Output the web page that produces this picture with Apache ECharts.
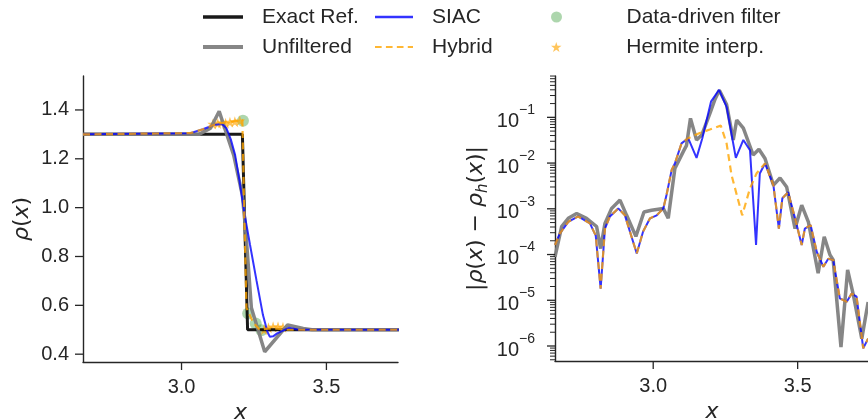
<!DOCTYPE html>
<html>
<head>
<meta charset="utf-8">
<script src="https://cdn.jsdelivr.net/npm/echarts@6/dist/echarts.min.js"></script>
<style>
  html, body { margin: 0; padding: 0; background: #fff; }
  #chart { width: 868px; height: 420px; }
</style>
</head>
<body>
<div id="chart"></div>
<script>
// left panel: rho(x)
const exactX = [2.66, 3.21, 3.228, 3.75];
const exactRho = [1.3, 1.3, 0.5, 0.5];
const unfiltX = [2.66, 3.06, 3.10, 3.130, 3.145, 3.18, 3.21, 3.222, 3.241, 3.287, 3.366, 3.42, 3.45, 3.75];
const unfiltRho = [1.30, 1.30, 1.325, 1.395, 1.34, 1.215, 1.05, 0.90, 0.59, 0.41, 0.52, 0.505, 0.50, 0.50];
const siacX = [2.66, 3.03, 3.074, 3.11, 3.14, 3.155, 3.17, 3.185, 3.20, 3.218, 3.236, 3.259, 3.281, 3.297, 3.305, 3.316, 3.33, 3.37, 3.40, 3.75];
const siacRho = [1.30, 1.305, 1.321, 1.338, 1.342, 1.325, 1.28, 1.215, 1.11, 0.97, 0.85, 0.70, 0.56, 0.49, 0.471, 0.473, 0.485, 0.508, 0.501, 0.50];
const hybridX = [2.66, 3.03, 3.074, 3.11, 3.13, 3.16, 3.19, 3.21, 3.216, 3.224, 3.247, 3.27, 3.30, 3.33, 3.36, 3.75];
const hybridRho = [1.30, 1.305, 1.321, 1.338, 1.345, 1.35, 1.355, 1.36, 1.0, 0.59, 0.53, 0.50, 0.505, 0.505, 0.50, 0.50];
const ddfX = [3.212, 3.230, 3.256, 3.276];
const ddfRho = [1.356, 0.567, 0.526, 0.498];
const hermiteX = [3.108, 3.125, 3.138, 3.152, 3.167, 3.184, 3.201, 3.285, 3.30, 3.316, 3.333, 3.35];
const hermiteRho = [1.342, 1.345, 1.348, 1.346, 1.35, 1.352, 1.356, 0.50, 0.508, 0.512, 0.512, 0.51];

// right panel: |rho - rho_h|
const unfiltErrX = [2.660, 2.683, 2.706, 2.735, 2.769, 2.804, 2.818, 2.833, 2.856, 2.885, 2.908, 2.940, 2.968, 2.994, 3.035, 3.052, 3.075, 3.104, 3.115, 3.129, 3.150, 3.168, 3.196, 3.214, 3.229, 3.254, 3.277, 3.289, 3.312, 3.346, 3.366, 3.387, 3.416, 3.439, 3.462, 3.491, 3.514, 3.537, 3.571, 3.592, 3.612, 3.623, 3.650, 3.673, 3.693, 3.722, 3.744];
const unfiltErr = [8.9e-5, 4.1e-4, 6.2e-4, 7.9e-4, 6.2e-4, 4.1e-4, 1.35e-4, 4.8e-4, 1.02e-3, 1.55e-3, 7.2e-4, 2.5e-4, 8.5e-4, 9.3e-4, 1.02e-3, 6.2e-4, 7.6e-3, 1.78e-2, 2.4e-2, 9.5e-2, 3.2e-2, 4.1e-2, 0.12, 0.25, 0.39, 0.19, 3.2e-2, 8.7e-2, 5.8e-2, 1.5e-2, 2.0e-2, 1.26e-2, 3.3e-3, 4.7e-3, 3.0e-3, 3.7e-4, 1.2e-3, 5.2e-4, 3.9e-5, 2.45e-4, 9.8e-5, 7.6e-5, 9.5e-7, 4.6e-5, 1.3e-5, 1.45e-6, 9.1e-6];
const siacErrX = [2.660, 2.677, 2.706, 2.740, 2.781, 2.801, 2.818, 2.833, 2.850, 2.879, 2.902, 2.943, 2.965, 2.989, 3.012, 3.035, 3.046, 3.064, 3.075, 3.098, 3.121, 3.150, 3.170, 3.200, 3.228, 3.254, 3.286, 3.312, 3.335, 3.356, 3.369, 3.387, 3.416, 3.435, 3.447, 3.467, 3.491, 3.514, 3.525, 3.545, 3.566, 3.589, 3.606, 3.623, 3.646, 3.670, 3.687, 3.704, 3.727, 3.744];
const siacErr = [1.62e-4, 2.9e-4, 5.2e-4, 6.8e-4, 4.8e-4, 2.6e-4, 1.8e-5, 3.7e-4, 6.8e-4, 1.02e-3, 7.2e-4, 1.05e-4, 3.2e-4, 6.2e-4, 7.2e-4, 1.02e-3, 2.0e-3, 7.1e-3, 9.8e-3, 2.7e-2, 3.5e-2, 1.3e-2, 3.5e-2, 0.22, 0.40, 0.17, 1.3e-2, 3.2e-2, 1.9e-2, 1.62e-4, 5.9e-3, 9.8e-3, 3.3e-3, 3.7e-4, 1.7e-3, 2.3e-3, 6.2e-4, 1.62e-4, 3.7e-4, 4.4e-4, 1.15e-4, 5.4e-5, 8.1e-5, 7.6e-5, 1.1e-5, 9.3e-6, 1.4e-5, 1.2e-5, 8.9e-7, 1.45e-6];
const hybridErrX = [2.660, 2.677, 2.706, 2.740, 2.781, 2.801, 2.818, 2.833, 2.850, 2.879, 2.902, 2.943, 2.965, 2.989, 3.012, 3.035, 3.046, 3.064, 3.075, 3.098, 3.121, 3.159, 3.196, 3.234, 3.254, 3.271, 3.308, 3.335, 3.358, 3.387, 3.416, 3.435, 3.447, 3.467, 3.491, 3.514, 3.525, 3.545, 3.566, 3.589, 3.606, 3.623, 3.646, 3.670, 3.687, 3.704, 3.727, 3.744];
const hybridErr = [1.62e-4, 2.9e-4, 5.2e-4, 6.8e-4, 4.8e-4, 2.6e-4, 1.8e-5, 3.7e-4, 6.8e-4, 1.02e-3, 7.2e-4, 1.05e-4, 3.2e-4, 6.2e-4, 7.2e-4, 1.02e-3, 2.0e-3, 7.1e-3, 9.8e-3, 2.7e-2, 3.5e-2, 4.5e-2, 5.4e-2, 6.6e-2, 2.7e-2, 5.5e-3, 7.2e-4, 2.8e-3, 6.0e-3, 9.8e-3, 3.3e-3, 3.7e-4, 1.7e-3, 2.3e-3, 6.2e-4, 1.62e-4, 3.7e-4, 4.4e-4, 1.15e-4, 5.4e-5, 8.1e-5, 7.6e-5, 1.1e-5, 9.3e-6, 1.4e-5, 1.2e-5, 8.9e-7, 1.45e-6];

// ticks
const rhoTicks = [0.4, 0.6, 0.8, 1.0, 1.2, 1.4];
const xTicks = [3.0, 3.5];
const decadeTicks = [-6, -5, -4, -3, -2, -1];

const X_MIN = 2.66, X_MAX = 3.747;
const RHO_MIN = 0.368, RHO_MAX = 1.539;
const LOG_MIN = -6.328, LOG_MAX = -0.096;

const TEXT = '#262626';
const FONT = "'Liberation Sans', Arial, sans-serif";
const C_EXACT = 'rgba(0,0,0,0.9)';
const C_UNF = 'rgba(128,128,128,0.95)';
const C_SIAC = 'rgba(0,0,255,0.8)';
const C_HYB = 'rgba(255,165,0,0.8)';
const C_DDF = 'rgba(0,128,0,0.4)';
const STAR = 'path://M50,0L61.2,34.5L97.6,34.5L68.2,55.9L79.4,90.5L50,69.1L20.6,90.5L31.8,55.9L2.4,34.5L38.8,34.5Z';
const DASH = 'path://M0,0h7v2h-7zM11.5,0h7v2h-7zM23,0h7v2h-7zM34.5,0h5.5v2h-5.5z';

const zip = (xs, ys) => xs.map((x, i) => [x, ys[i]]);
const zipLog = (xs, ys) => xs.map((x, i) => [x, Math.log10(ys[i])]);

// minor tick positions of the log axis (2..9 per decade)
const minorTicks = [];
for (let d = -7; d <= 0; d++) {
  for (let k = 2; k <= 9; k++) {
    const v = d + Math.log10(k);
    if (v > LOG_MIN && v < LOG_MAX) minorTicks.push(v);
  }
}

// tick marks: [0 = y tick / 1 = x tick, value, length, width]
const leftTicks = rhoTicks.map(v => [0, v, 8, 1.3]).concat(xTicks.map(v => [1, v, 8, 1.3]));
const rightTicks = decadeTicks.map(v => [0, v, 8, 1.3])
  .concat(minorTicks.map(v => [0, v, 5, 1]))
  .concat(xTicks.map(v => [1, v, 8, 1.3]));

function tickSeries(gridIdx, data, yMin) {
  return {
    type: 'custom',
    xAxisIndex: gridIdx,
    yAxisIndex: gridIdx,
    clip: false,
    silent: true,
    z: 5,
    data: data,
    renderItem: function (params, api) {
      const kind = api.value(0), v = api.value(1), len = api.value(2), w = api.value(3);
      let shape;
      if (kind === 0) {
        const p = api.coord([X_MIN, v]);
        shape = { x1: p[0] - len, y1: p[1], x2: p[0], y2: p[1] };
      } else {
        const p = api.coord([v, yMin]);
        shape = { x1: p[0], y1: p[1], x2: p[0], y2: p[1] + len };
      }
      return { type: 'line', shape: shape, style: { stroke: TEXT, lineWidth: w } };
    }
  };
}

const chart = echarts.init(document.getElementById('chart'), null, { renderer: 'canvas' });

const axisLine = { show: true, lineStyle: { color: TEXT, width: 1.4 } };
const mathRich = {
  i: { fontFamily: 'DejaVu Sans', fontStyle: 'italic', fontSize: 22, color: TEXT },
  n: { fontFamily: 'DejaVu Sans', fontSize: 22, color: TEXT },
  sub: { fontFamily: 'DejaVu Sans', fontStyle: 'italic', fontSize: 15, color: TEXT, verticalAlign: 'bottom', lineHeight: 30 }
};

function legend(name, left, top, icon, w, h, pad, color) {
  return {
    show: true,
    left: left,
    top: top,
    orient: 'horizontal',
    selectedMode: false,
    itemWidth: w,
    itemHeight: h,
    padding: 0,
    icon: icon,
    itemStyle: { borderWidth: 0 },
    data: [{ name: name, icon: icon, itemStyle: { color: color, borderWidth: 0 } }],
    textStyle: { fontSize: 21, fontFamily: FONT, color: TEXT, lineHeight: 24, padding: [0, 0, 0, pad] }
  };
}

const option = {
  animation: false,
  backgroundColor: '#fff',
  legend: [
    legend('Exact Ref.', 203, 5, 'rect', 40, 3.5, 14, C_EXACT),
    legend('Unfiltered', 203, 35, 'rect', 40, 4, 14, C_UNF),
    legend('SIAC', 375, 5, 'rect', 38, 2.5, 14, C_SIAC),
    legend('Hybrid', 375, 35, DASH, 38, 2.5, 14, C_HYB),
    legend('Data-driven filter', 551, 5, 'circle', 40, 11, 45, C_DDF),
    legend('Hermite interp.', 551, 35, STAR, 40, 10, 45, C_HYB)
  ],
  grid: [
    { left: 83, top: 76, width: 315, height: 286, containLabel: false, outerBoundsMode: 'none' },
    { left: 555, top: 76, width: 314, height: 285, containLabel: false, outerBoundsMode: 'none' }
  ],
  xAxis: [0, 1].map(g => ({
    type: 'value',
    gridIndex: g,
    min: X_MIN,
    max: X_MAX,
    name: 'x',
    nameLocation: 'middle',
    nameGap: 40,
    nameTextStyle: { fontFamily: 'DejaVu Sans', fontStyle: 'italic', fontSize: 22, color: TEXT },
    axisLine: axisLine,
    axisTick: { show: false },
    axisLabel: { customValues: xTicks, formatter: v => v.toFixed(1), fontSize: 20, fontFamily: FONT, color: TEXT, margin: 15 },
    splitLine: { show: false }
  })),
  yAxis: [
    {
      type: 'value',
      gridIndex: 0,
      min: RHO_MIN,
      max: RHO_MAX,
      name: '{i|ρ}{n|(}{i|x}{n|)}',
      nameLocation: 'middle',
      nameRotate: 90,
      nameGap: 50,
      nameTextStyle: { rich: mathRich },
      axisLine: axisLine,
      axisTick: { show: false },
      axisLabel: { customValues: rhoTicks, formatter: v => v.toFixed(1), fontSize: 20, fontFamily: FONT, color: TEXT, margin: 14 },
      splitLine: { show: false }
    },
    {
      type: 'value',
      gridIndex: 1,
      min: LOG_MIN,
      max: LOG_MAX,
      name: '{n||}{i|ρ}{n|(}{i|x}{n|) − }{i|ρ}{sub|h}{n|(}{i|x}{n|)|}',
      nameLocation: 'middle',
      nameRotate: 90,
      nameGap: 64,
      nameTextStyle: { rich: mathRich },
      axisLine: axisLine,
      axisTick: { show: false },
      axisLabel: {
        customValues: decadeTicks,
        margin: 20,
        formatter: v => '{b|10}{s|−' + (-v) + '}',
        rich: {
          b: { fontSize: 20, fontFamily: FONT, color: TEXT, lineHeight: 28, verticalAlign: 'bottom' },
          s: { fontSize: 14, fontFamily: FONT, color: TEXT, lineHeight: 16, verticalAlign: 'top' }
        }
      },
      splitLine: { show: false }
    }
  ],
  series: [
    { name: 'Exact Ref.', type: 'line', xAxisIndex: 0, yAxisIndex: 0, symbol: 'none', color: C_EXACT,
      lineStyle: { color: C_EXACT, width: 3 }, data: zip(exactX, exactRho) },
    { name: 'Unfiltered', type: 'line', xAxisIndex: 0, yAxisIndex: 0, symbol: 'none', color: C_UNF,
      lineStyle: { color: C_UNF, width: 3.5 }, data: zip(unfiltX, unfiltRho) },
    { name: 'SIAC', type: 'line', xAxisIndex: 0, yAxisIndex: 0, symbol: 'none', color: C_SIAC,
      lineStyle: { color: C_SIAC, width: 2 }, data: zip(siacX, siacRho) },
    { name: 'Data-driven filter', type: 'scatter', xAxisIndex: 0, yAxisIndex: 0, symbol: 'circle', symbolSize: 12,
      color: C_DDF, itemStyle: { color: C_DDF }, data: zip(ddfX, ddfRho) },
    { name: 'Hybrid', type: 'line', xAxisIndex: 0, yAxisIndex: 0, symbol: 'none', color: C_HYB,
      lineStyle: { color: C_HYB, width: 2.2, type: [7, 4.5] }, data: zip(hybridX, hybridRho) },
    { name: 'Hermite interp.', type: 'scatter', xAxisIndex: 0, yAxisIndex: 0, symbol: STAR, symbolSize: 11,
      color: C_HYB, itemStyle: { color: C_HYB }, data: zip(hermiteX, hermiteRho) },

    { name: 'Unfiltered', type: 'line', xAxisIndex: 1, yAxisIndex: 1, symbol: 'none', color: C_UNF,
      lineStyle: { color: C_UNF, width: 3.5 }, data: zipLog(unfiltErrX, unfiltErr) },
    { name: 'SIAC', type: 'line', xAxisIndex: 1, yAxisIndex: 1, symbol: 'none', color: C_SIAC,
      lineStyle: { color: C_SIAC, width: 2 }, data: zipLog(siacErrX, siacErr) },
    { name: 'Hybrid', type: 'line', xAxisIndex: 1, yAxisIndex: 1, symbol: 'none', color: C_HYB,
      lineStyle: { color: C_HYB, width: 2.2, type: [7, 4.5] }, data: zipLog(hybridErrX, hybridErr) },

    tickSeries(0, leftTicks, RHO_MIN),
    tickSeries(1, rightTicks, LOG_MIN)
  ]
};

chart.setOption(option);
</script>
</body>
</html>
